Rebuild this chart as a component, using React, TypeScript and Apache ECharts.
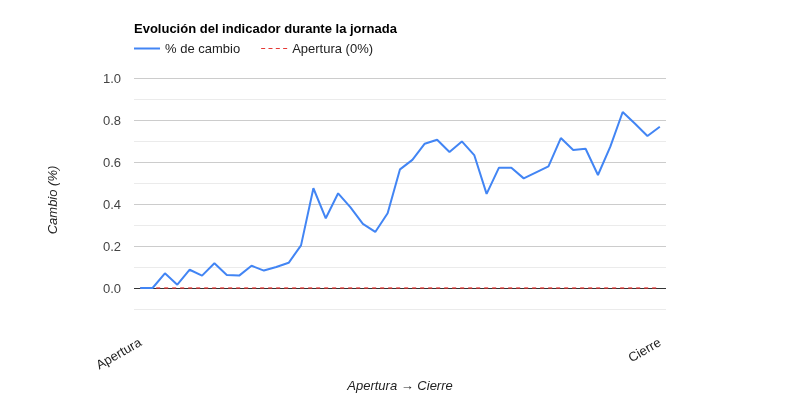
import React, { useEffect, useRef } from "react";
import * as echarts from "echarts";

const titleText = "Evolución del indicador durante la jornada";
const seriesNames = ["% de cambio", "Apertura (0%)"];
const categories = [
  "Apertura", "", "", "", "", "", "", "", "", "", "",
  "", "", "", "", "", "", "", "", "", "",
  "", "", "", "", "", "", "", "", "", "",
  "", "", "", "", "", "", "", "", "", "",
  "", "Cierre",
];
const changeValues = [
  0.0, 0.0, 0.07, 0.016, 0.087, 0.059, 0.118, 0.062, 0.059, 0.106,
  0.083, 0.1, 0.12, 0.203, 0.475, 0.332, 0.451, 0.384, 0.305, 0.267,
  0.356, 0.565, 0.61, 0.687, 0.706, 0.648, 0.698, 0.633, 0.448, 0.573,
  0.573, 0.522, 0.551, 0.579, 0.714, 0.657, 0.663, 0.538, 0.673, 0.838,
  0.782, 0.724, 0.768,
];
const openValues = [
  0, 0, 0, 0, 0, 0, 0, 0, 0, 0,
  0, 0, 0, 0, 0, 0, 0, 0, 0, 0,
  0, 0, 0, 0, 0, 0, 0, 0, 0, 0,
  0, 0, 0, 0, 0, 0, 0, 0, 0, 0,
  0, 0, 0,
];
const yMin = -0.1;
const yMax = 1.0;
const yStep = 0.1;
const xAxisTitle = "Apertura → Cierre";
const yAxisTitle = "Cambio (%)";

const FONT = "'Liberation Sans', Arial, sans-serif";
const BLUE = "#4285f4";
const RED = "#e53935";

export default function App() {
  const ref = useRef<HTMLDivElement>(null);
  useEffect(() => {
    if (!ref.current) return;
    const chart = echarts.init(ref.current, null, { renderer: "svg" });
    chart.setOption({
      animation: false,
      textStyle: { fontFamily: FONT },
      title: {
        text: titleText,
        left: 129,
        top: 17,
        textStyle: { fontSize: 13, fontWeight: "bold", color: "#000", fontFamily: FONT },
      },
      legend: {
        data: [
          { name: seriesNames[0], icon: "path://M0,0h26v2h-26z" },
          {
            name: seriesNames[1],
            icon: "path://M0,0h4v1h-4zM7.3,0h4v1h-4zM14.6,0h4v1h-4zM21.9,0h4v1h-4z",
          },
        ],
        left: 134,
        top: 42,
        padding: 0,
        itemWidth: 26,
        itemHeight: 14,
        itemGap: 21,
        textStyle: { fontSize: 13, color: "#222", fontFamily: FONT },
      },
      grid: {
        left: 134,
        right: 134,
        top: 78,
        bottom: 91,
        containLabel: false,
        outerBoundsMode: "none",
      },
      xAxis: {
        type: "category",
        data: categories,
        boundaryGap: true,
        axisLine: { show: false, onZero: false },
        axisTick: { show: false },
        splitLine: { show: false },
        axisLabel: {
          interval: 0,
          rotate: 30,
          margin: 32,
          fontSize: 13,
          color: "#222",
          fontFamily: FONT,
        },
        name: xAxisTitle,
        nameLocation: "middle",
        nameGap: 70,
        nameTextStyle: { fontSize: 13, fontStyle: "italic", color: "#222", fontFamily: FONT },
      },
      yAxis: {
        type: "value",
        min: yMin,
        max: yMax,
        interval: yStep,
        axisLine: { show: false },
        axisTick: { show: false },
        axisLabel: {
          margin: 13,
          fontSize: 13,
          color: "#444",
          fontFamily: FONT,
          formatter: (v: number) => {
            const n = Math.round(v * 10);
            return n >= 0 && n % 2 === 0 ? (n / 10).toFixed(1) : "";
          },
        },
        splitLine: { show: true, lineStyle: { color: ["#ebebeb", "#cccccc"], width: 1 } },
      },
      graphic: [
        {
          type: "text",
          x: 52,
          y: 200,
          rotation: Math.PI / 2,
          style: {
            text: yAxisTitle,
            fontSize: 13,
            fontStyle: "italic",
            fill: "#222",
            fontFamily: FONT,
            align: "center",
            verticalAlign: "middle",
          },
        },
      ],
      series: [
        {
          name: "base",
          type: "line",
          data: [],
          z: 1,
          silent: true,
          markLine: {
            silent: true,
            z: 1,
            symbol: "none",
            label: { show: false },
            lineStyle: { color: "#333333", type: "solid", width: 1 },
            data: [{ yAxis: 0 }],
          },
        },
        {
          name: seriesNames[1],
          type: "line",
          data: openValues,
          symbol: "none",
          z: 2,
          color: RED,
          lineStyle: { color: RED, width: 2, type: [4, 4], opacity: 0.65 },
        },
        {
          name: seriesNames[0],
          type: "line",
          data: changeValues,
          symbol: "none",
          z: 3,
          color: BLUE,
          lineStyle: { color: BLUE, width: 2 },
        },
      ],
    });
    return () => chart.dispose();
  }, []);
  return (
    <div
      ref={ref}
      style={{ position: "fixed", left: 0, top: 0, width: 800, height: 400 }}
    />
  );
}
